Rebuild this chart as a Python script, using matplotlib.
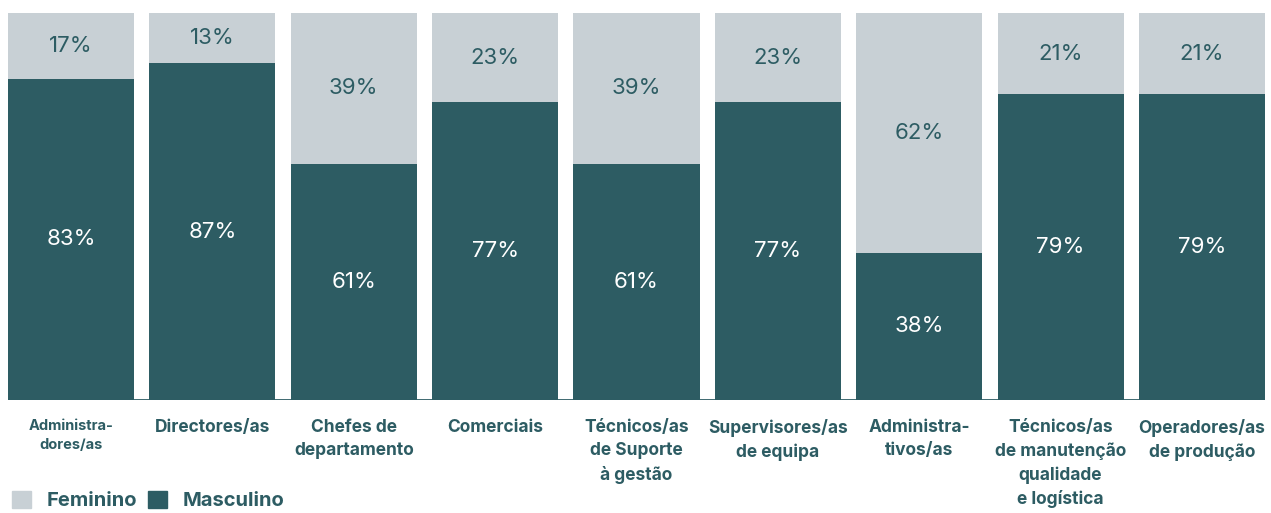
import matplotlib.pyplot as plt
import numpy as np
from matplotlib.patches import Patch

# dados
categorias = ["Administra-\ndores/as", "Directores/as", "Chefes de\ndepartamento",
              "Comerciais", "Técnicos/as\nde Suporte\nà gestão", "Supervisores/as\nde equipa",
              "Administra-\ntivos/as", "Técnicos/as\nde manutenção\nqualidade\ne logística",
              "Operadores/as\nde produção"]
masculino = [83, 87, 61, 77, 61, 77, 38, 79, 79]
feminino = [17, 13, 39, 23, 39, 23, 62, 21, 21]

cor_masc = "#2d5c63"
cor_fem = "#c8d0d5"

plt.rcParams['font.family'] = ['Inter', 'DejaVu Sans']

fig = plt.figure(figsize=(12.71, 5.13), dpi=100)
ax = fig.add_axes([8 / 1271, 113 / 513, 1257 / 1271, 387 / 513])

x = np.arange(len(categorias))
larg = 0.892
ax.bar(x, masculino, width=larg, color=cor_masc)
ax.bar(x, feminino, width=larg, bottom=masculino, color=cor_fem)

for i in range(len(x)):
    ax.text(x[i], masculino[i] / 2, f"{masculino[i]}%", ha="center", va="center",
            color="white", fontsize=16)
    ax.text(x[i], masculino[i] + feminino[i] / 2, f"{feminino[i]}%", ha="center", va="center",
            color=cor_masc, fontsize=16)

ax.set_xlim(-larg / 2, len(x) - 1 + larg / 2)
ax.set_ylim(0, 100)
ax.axhline(0, color=cor_masc, lw=2)
for s in ax.spines.values():
    s.set_visible(False)
ax.set_yticks([])
ax.set_xticks(x)
ax.set_xticklabels(categorias, fontsize=12.5, fontweight="bold", color=cor_masc, linespacing=1.45)
ax.get_xticklabels()[0].set_fontsize(10.5)
ax.tick_params(axis="x", length=0, pad=14)

# legenda
handles = [Patch(color=cor_fem, label="Feminino"), Patch(color=cor_masc, label="Masculino")]
fig.legend(handles=handles, loc="lower left", bbox_to_anchor=(0.0, -0.018), ncol=2, frameon=False,
           prop={"weight": "bold", "size": 14.5}, labelcolor=cor_masc, handlelength=0.95,
           handleheight=0.95, handletextpad=0.75, columnspacing=0.55, borderaxespad=0.2)

plt.savefig("out.png", dpi=100)
